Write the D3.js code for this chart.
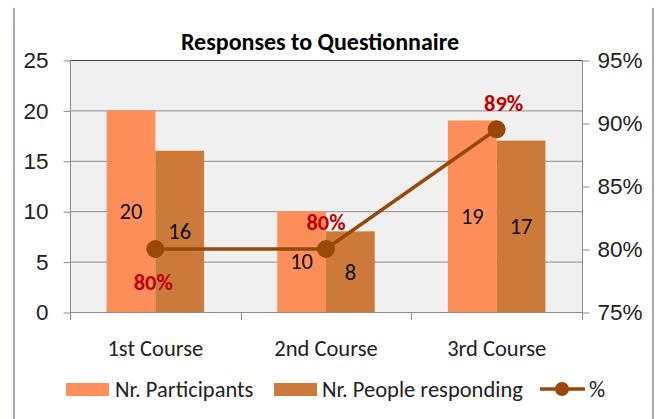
<!DOCTYPE html>
<html>
<head>
<meta charset="utf-8">
<script src="https://cdn.jsdelivr.net/npm/d3@7"></script>
<style>
  body { margin: 0; background: #fff; }
  svg { font-family: Carlito, Lato, "Liberation Sans", sans-serif; }
</style>
</head>
<body>
<script>
var courses = ['1st Course', '2nd Course', '3rd Course'];
var participants = [20, 10, 19];
var responding = [16, 8, 17];
var pct = [0.80, 0.80, 0.895];
var pctLabels = ['80%', '80%', '89%'];
var leftTicks = [0, 5, 10, 15, 20, 25];
var rightTicks = [0.75, 0.80, 0.85, 0.90, 0.95];

var W = 659, H = 419;
var m = { left: 70, right: 582, top: 60, bottom: 312 };
var fs = 22.5;

var svg = d3.select('body').append('svg')
  .attr('width', W)
  .attr('height', H);

// outer frame (only sides visible)
svg.append('line').attr('x1', 14).attr('x2', 14).attr('y1', 8).attr('y2', H)
  .attr('stroke', '#a3abb8').attr('stroke-width', 2);
svg.append('line').attr('x1', 653).attr('x2', 653).attr('y1', 8).attr('y2', H)
  .attr('stroke', '#a3abb8').attr('stroke-width', 2);

var x = d3.scaleBand().domain(courses).range([m.left, m.right]).paddingInner(0.4286).paddingOuter(0.2143);
var yL = d3.scaleLinear().domain([0, 25]).range([m.bottom, m.top]);
var yR = d3.scaleLinear().domain([0.75, 0.95]).range([m.bottom, m.top]);
var step = x.step();

svg.append('rect')
  .attr('x', m.left).attr('y', m.top)
  .attr('width', m.right - m.left).attr('height', m.bottom - m.top)
  .attr('fill', '#f0f0f0');

// gridlines
svg.append('g').selectAll('line').data(leftTicks).join('line')
  .attr('x1', m.left).attr('x2', m.right)
  .attr('y1', function(d) { return yL(d) + 0.5; })
  .attr('y2', function(d) { return yL(d) + 0.5; })
  .attr('stroke', function(d) { return d == 25 ? '#444' : '#8c8c8c'; })
  .attr('stroke-width', 1);

// plot side borders
svg.append('line').attr('x1', m.left + 0.5).attr('x2', m.left + 0.5).attr('y1', m.top).attr('y2', m.bottom + 8)
  .attr('stroke', '#8c8c8c');
svg.append('line').attr('x1', m.right + 0.5).attr('x2', m.right + 0.5).attr('y1', m.top).attr('y2', m.bottom)
  .attr('stroke', '#8c8c8c');

// axes
var axL = svg.append('g').attr('transform', 'translate(' + (m.left + 0.5) + ',0.5)')
  .call(d3.axisLeft(yL).tickValues(leftTicks).tickSize(7).tickPadding(15));
var axR = svg.append('g').attr('transform', 'translate(' + (m.right + 0.5) + ',0.5)')
  .call(d3.axisRight(yR).tickValues(rightTicks).tickSize(7).tickPadding(8).tickFormat(d3.format('.0%')));
[axL, axR].forEach(function(a) {
  a.select('.domain').remove();
  a.selectAll('.tick line').attr('stroke', '#8c8c8c');
  a.selectAll('.tick text').attr('font-size', fs).attr('fill', '#222').attr('font-family', null);
});

// bottom axis: category boundaries
var bounds = [0, 1, 2, 3].map(function(i) { return m.left + i * step; });
svg.append('line').attr('x1', m.left).attr('x2', m.right).attr('y1', m.bottom + 0.5).attr('y2', m.bottom + 0.5)
  .attr('stroke', '#8c8c8c');
svg.append('g').selectAll('line').data(bounds).join('line')
  .attr('x1', function(d) { return Math.round(d) + 0.5; })
  .attr('x2', function(d) { return Math.round(d) + 0.5; })
  .attr('y1', m.bottom).attr('y2', m.bottom + 8)
  .attr('stroke', '#8c8c8c');
svg.append('g').selectAll('text').data(courses).join('text')
  .attr('x', function(d) { return x(d) + x.bandwidth() / 2; })
  .attr('y', 348)
  .attr('dy', '0.35em')
  .attr('text-anchor', 'middle')
  .attr('font-size', fs).attr('fill', '#222')
  .text(function(d) { return d; });

var bw = x.bandwidth() / 2;
var c1 = '#fe8f5b', c2 = '#cc7a39', lineColor = '#984807';

svg.append('g').selectAll('rect').data(participants).join('rect')
  .attr('x', function(d, i) { return x(courses[i]); })
  .attr('y', function(d) { return yL(d); })
  .attr('width', bw)
  .attr('height', function(d) { return yL(0) - yL(d); })
  .attr('fill', c1);
svg.append('g').selectAll('rect').data(responding).join('rect')
  .attr('x', function(d, i) { return x(courses[i]) + bw; })
  .attr('y', function(d) { return yL(d); })
  .attr('width', bw)
  .attr('height', function(d) { return yL(0) - yL(d); })
  .attr('fill', c2);

// value labels in the middle of bars
svg.append('g').selectAll('text').data(participants).join('text')
  .attr('x', function(d, i) { return x(courses[i]) + bw / 2; })
  .attr('y', function(d) { return yL(d / 2); })
  .attr('dy', '0.35em').attr('text-anchor', 'middle')
  .attr('font-size', fs).attr('fill', '#111')
  .text(function(d) { return d; });
svg.append('g').selectAll('text').data(responding).join('text')
  .attr('x', function(d, i) { return x(courses[i]) + bw * 1.5; })
  .attr('y', function(d) { return yL(d / 2); })
  .attr('dy', '0.35em').attr('text-anchor', 'middle')
  .attr('font-size', fs).attr('fill', '#111')
  .text(function(d) { return d; });

// percentage line
var px = function(d, i) { return x(courses[i]) + bw; };
svg.append('path')
  .datum(pct)
  .attr('fill', 'none')
  .attr('stroke', lineColor)
  .attr('stroke-width', 3.5)
  .attr('d', d3.line().x(px).y(function(d) { return yR(d); }));
svg.append('g').selectAll('circle').data(pct).join('circle')
  .attr('cx', px)
  .attr('cy', function(d) { return yR(d); })
  .attr('r', 9)
  .attr('fill', lineColor);

var labOff = [33, -27, -26];
var labDx = [-2, 0, 7];
svg.append('g').selectAll('text').data(pct).join('text')
  .attr('x', function(d, i) { return px(d, i) + labDx[i]; })
  .attr('y', function(d, i) { return yR(d) + labOff[i]; })
  .attr('dy', '0.35em').attr('text-anchor', 'middle')
  .attr('font-size', fs).attr('font-weight', 'bold').attr('fill', '#c00000')
  .text(function(d, i) { return pctLabels[i]; });

// title
svg.append('text')
  .attr('x', 320).attr('y', 50)
  .attr('text-anchor', 'middle')
  .attr('font-size', 24).attr('font-weight', 'bold').attr('fill', '#000')
  .text('Responses to Questionnaire');

// legend
var leg = svg.append('g').attr('font-size', fs).attr('fill', '#222');
leg.append('rect').attr('x', 66).attr('y', 383).attr('width', 43).attr('height', 13).attr('fill', c1);
leg.append('text').attr('x', 115).attr('y', 389).attr('dy', '0.35em').text('Nr. Participants');
leg.append('rect').attr('x', 274).attr('y', 383).attr('width', 43).attr('height', 13).attr('fill', c2);
leg.append('text').attr('x', 322).attr('y', 389).attr('dy', '0.35em').text('Nr. People responding');
leg.append('line').attr('x1', 540).attr('x2', 585).attr('y1', 389).attr('y2', 389)
  .attr('stroke', lineColor).attr('stroke-width', 3.5);
leg.append('circle').attr('cx', 562).attr('cy', 389).attr('r', 7).attr('fill', lineColor);
leg.append('text').attr('x', 589).attr('y', 389).attr('dy', '0.35em').text('%');
</script>
</body>
</html>
